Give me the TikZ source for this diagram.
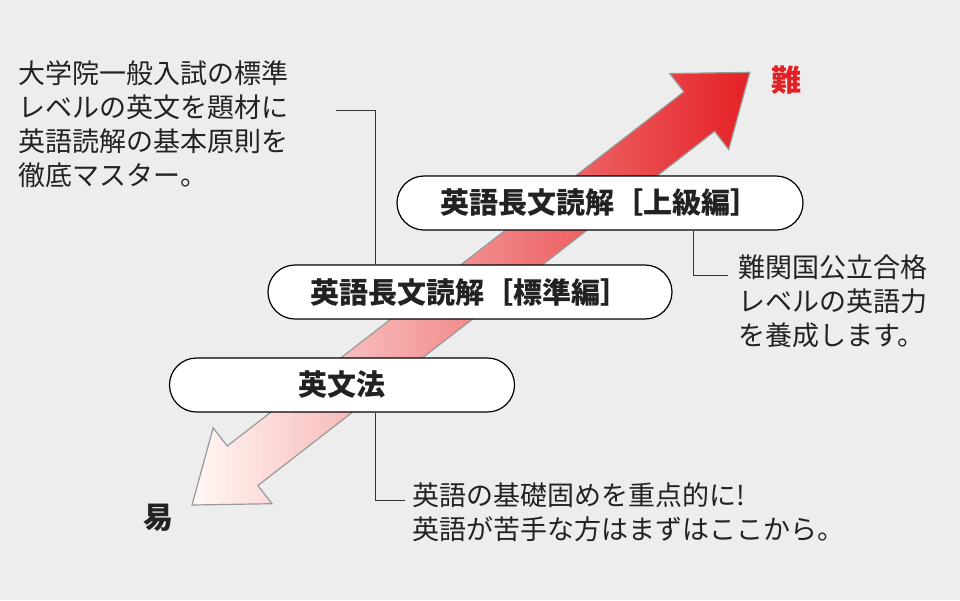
\documentclass[tikz,border=0pt]{standalone}
\usepackage{fontspec}
\setmainfont{Noto Sans CJK JP}
\usetikzlibrary{positioning}
\definecolor{bgray}{HTML}{EDEDED}
\definecolor{hardred}{HTML}{E52025}
\definecolor{midred}{HTML}{F07A63}
\definecolor{easywhite}{HTML}{FFF8F5}
\definecolor{inkgray}{HTML}{222222}
\begin{document}
\begin{tikzpicture}[
        x=1pt, y=-1pt,
        level/.style={draw=black, line width=1.2pt, fill=white, rounded corners=27pt, minimum height=54pt, font=\fontsize{29}{31}\selectfont\bfseries, text=inkgray},
        note/.style={align=left, anchor=north west, font=\fontsize{27}{34}\selectfont, text=inkgray, inner sep=0pt},
        every path/.style={line width=1pt}
        ]
        % Background
        \fill[bgray] (0,0) rectangle (960,600);

        % Difficulty arrow
        \begin{scope}[shift={(192,505)}, rotate=37.8]
            \shade[left color=easywhite, middle color=midred, right color=hardred, draw=gray!80, line width=1.2pt, line join=miter]
                (0pt,0pt) -- (64pt,48pt) -- (64pt,25pt) -- (642pt,25pt) -- (642pt,48pt) -- (706pt,0pt)
                -- (642pt,-48pt) -- (642pt,-25pt) -- (64pt,-25pt) -- (64pt,-48pt) -- cycle;
        \end{scope}
        \node[font=\fontsize{30}{32}\selectfont\bfseries, text=hardred] (hard) at (786,80) {難};
        \node[font=\fontsize{30}{32}\selectfont\bfseries, text=inkgray] (easy) at (158,518) {易};

        % Levels
        \node[level, minimum width=345pt] (grammar) at (342,385) {英文法};
        \node[level, minimum width=404pt] (standard) at (470,292) {英語長文読解［標準編］};
        \node[level, minimum width=406pt] (advanced) at (600,203) {英語長文読解［上級編］};

        % Notes
        \node[note] (noteStd) at (18,60) {大学院一般入試の標準\\レベルの英文を題材に\\英語読解の基本原則を\\徹底マスター。};
        \node[note] (noteAdv) at (738,254) {難関国公立合格\\レベルの英語力\\を養成します。};
        \node[note] (noteGr) at (412,482) {英語の基礎固めを重点的に!\\英語が苦手な方はまずはここから。};

        % Leaders
        \coordinate (stdEnd) at (336,110);
        \coordinate (advEnd) at (728,275);
        \coordinate (grEnd) at (405,500);
        \draw[black!80] (stdEnd) -| (375,0 |- standard.north);
        \draw[black!80] (693,0 |- advanced.south) |- (advEnd);
        \draw[black!80] (375,0 |- grammar.south) |- (grEnd);
    \end{tikzpicture}
\end{document}
